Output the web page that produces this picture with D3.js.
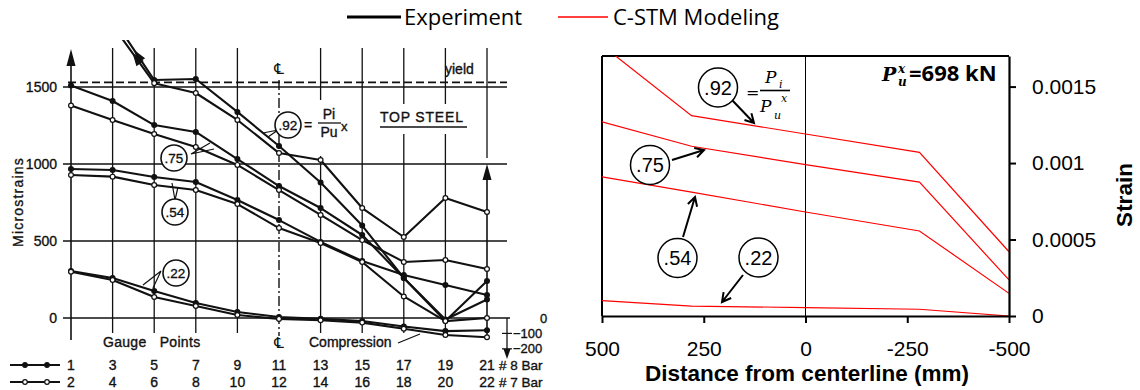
<!DOCTYPE html>
<html><head><meta charset="utf-8">
<script src="https://cdn.jsdelivr.net/npm/d3@7"></script>
<style>
html,body{margin:0;padding:0;background:#fff;}
svg{display:block;}
</style></head>
<body>
<svg id="chart" width="1140" height="390"></svg>
<script>
// ---- Measured top-steel strains (microstrain) at gauge points ----
const gaugesBar8 = [1, 3, 5, 7, 9, 11, 13, 15, 17, 19, 21];
const gaugesBar7 = [2, 4, 6, 8, 10, 12, 14, 16, 18, 20, 22];
const exp92Bar8 = [null, 1950, 1545, 1552, 1338, 1117, 880, 600, 260, -20, 240];
const exp92Bar7 = [null, 1900, 1525, 1461, 1286, 1071, 1026, 714, 526, 779, 688];
const exp75Bar8 = [1510, 1409, 1253, 1208, 1032, 857, 714, 539, 260, -10, 120];
const exp75Bar7 = [1380, 1286, 1195, 1110, 994, 831, 669, 506, 364, 377, 318];
const exp54Bar8 = [968, 961, 916, 883, 766, 636, 494, 370, 279, 214, 149];
const exp54Bar7 = [929, 918, 864, 831, 740, 584, 487, 364, 140, -20, 0];
const exp22Bar8 = [305, 260, 175, 97, 39, 6, -5, -20, -55, -85, -80];
const exp22Bar7 = [300, 247, 136, 78, 19, -6, -15, -30, -70, -110, -125];
const microTicks = [0, 500, 1000, 1500];
const compressionTicks = [-100, -200];
const yieldMicro = 1530;
const loadLabels = ['.92', '.75', '.54', '.22'];

// ---- C-STM model strains along the member ----
const distances = [500, 280, 0, -280, -500];
const model92 = [0.00177, 0.00131, 0.00119, 0.00107, 0.00042];
const model75 = [0.00127, 0.00111, 0.00099, 0.000875, 0.000236];
const model54 = [0.00091, 0.00081, 0.00068, 0.000556, 0.000148];
const model22 = [0.0001, 0.000065, 0.000055, 0.000044, 0];
const strainTicks = [0, 0.0005, 0.001, 0.0015];
const distanceTicks = [500, 250, 0, -250, -500];

const svg = d3.select('#chart');
const ink = '#111';
const scanFont = '"Liberation Sans", "DejaVu Sans", sans-serif';
const uiFont = '"Open Sans", "Noto Sans", sans-serif';
const axisFont = '"Liberation Sans", Arial, sans-serif';

// lettering helper for the hand-lettered record
function letter(sel, size) {
  return sel.attr('font-family', scanFont).attr('font-size', size || 14)
    .attr('fill', ink).attr('stroke', ink).attr('stroke-width', 0.35);
}

// ===================== Left panel: test record =====================
const L = svg.append('g');
const xG = d3.scaleLinear().domain([1, 21]).range([71, 487]);
const yM = d3.scaleLinear().domain([0, 1500]).range([318, 87]);

const defs = svg.append('defs');
defs.append('clipPath').attr('id', 'clipL')
  .append('rect').attr('x', 0).attr('y', 40).attr('width', 520).attr('height', 330);

// horizontal grid
L.selectAll('line.hg').data(microTicks).join('line')
  .attr('x1', 63).attr('x2', d => d === 0 ? 510 : 507)
  .attr('y1', d => yM(d)).attr('y2', d => yM(d))
  .attr('stroke', ink).attr('stroke-width', 1.3);
// yield
L.append('line').attr('x1', 68).attr('x2', 507)
  .attr('y1', yM(yieldMicro)).attr('y2', yM(yieldMicro))
  .attr('stroke', ink).attr('stroke-width', 1.8).attr('stroke-dasharray', '8,4');

// vertical grid at gauge points
const innerGauges = gaugesBar8.filter(g => g !== 1 && g !== 11 && g !== 21);
L.selectAll('line.vg').data(innerGauges).join('line')
  .attr('x1', d => xG(d)).attr('x2', d => xG(d))
  .attr('y1', 48).attr('y2', 333)
  .attr('stroke', ink).attr('stroke-width', 1.3);
// centreline
L.append('line').attr('x1', xG(11)).attr('x2', xG(11)).attr('y1', 80).attr('y2', 336)
  .attr('stroke', ink).attr('stroke-width', 1.4).attr('stroke-dasharray', '10,3,2,3');
// gauge 21 line with upward arrow
L.append('line').attr('x1', xG(21)).attr('x2', xG(21)).attr('y1', 48).attr('y2', 158)
  .attr('stroke', ink).attr('stroke-width', 1.3);
L.append('line').attr('x1', xG(21)).attr('x2', xG(21)).attr('y1', 170).attr('y2', 340)
  .attr('stroke', ink).attr('stroke-width', 1.6);
L.append('path').attr('d', `M${xG(21)},164 l-4.5,16 l9,0 z`).attr('fill', ink);
// y axis with arrow
L.append('line').attr('x1', xG(1)).attr('x2', xG(1)).attr('y1', 56).attr('y2', 340)
  .attr('stroke', ink).attr('stroke-width', 1.6);
L.append('path').attr('d', `M${xG(1)},49 l-4.5,17 l9,0 z`).attr('fill', ink);
// compression scale arrow
L.append('line').attr('x1', 507).attr('x2', 507).attr('y1', yM(0)).attr('y2', 352)
  .attr('stroke', ink).attr('stroke-width', 1.3);
L.append('path').attr('d', 'M507,359 l-3.5,-10 l7,0 z').attr('fill', ink);
L.selectAll('line.ct').data(compressionTicks).join('line')
  .attr('x1', 502).attr('x2', 512).attr('y1', d => yM(d)).attr('y2', d => yM(d))
  .attr('stroke', ink).attr('stroke-width', 1.2);

// label back-outs (gaps in the grid)
L.append('rect').attr('x', 302).attr('y', 100).attr('width', 52).attr('height', 56).attr('fill', '#fff');
L.append('rect').attr('x', 374).attr('y', 104).attr('width', 98).attr('height', 30).attr('fill', '#fff');

// tick labels
letter(L.selectAll('text.yt').data(microTicks).join('text'))
  .attr('x', 57).attr('y', d => yM(d)).attr('dy', '0.36em')
  .attr('text-anchor', 'end').text(d => d);
letter(L.append('text'), 13).attr('x', 540).attr('y', yM(0)).attr('dy', '0.36em').text('0');
letter(L.selectAll('text.ctl').data(compressionTicks).join('text'), 13)
  .attr('x', 513).attr('y', d => yM(d)).attr('dy', '0.36em').text(d => '\u2212' + Math.abs(d));
letter(L.append('text'), 14).attr('transform', 'translate(23,202) rotate(-90)')
  .attr('text-anchor', 'middle').attr('letter-spacing', 1.2).text('Microstrains');

// gauge numbering rows
const rows = [{g: gaugesBar8, y: 365, tag: '# 8 Bar', fill: ink},
              {g: gaugesBar7, y: 382, tag: '# 7 Bar', fill: '#fff'}];
rows.forEach(r => {
  letter(L.selectAll(null).data(r.g).join('text'))
    .attr('x', (d, i) => xG(gaugesBar8[i])).attr('y', r.y).attr('dy', '0.36em')
    .attr('text-anchor', 'middle').text(d => d);
  letter(L.append('text'), 13.5).attr('x', 499).attr('y', r.y).attr('dy', '0.36em').text(r.tag);
  L.append('line').attr('x1', 10).attr('x2', 60).attr('y1', r.y).attr('y2', r.y)
    .attr('stroke', ink).attr('stroke-width', 1.8);
  L.selectAll(null).data([25, 47]).join('circle')
    .attr('cx', d => d).attr('cy', r.y).attr('r', 2.3)
    .attr('fill', r.fill).attr('stroke', ink).attr('stroke-width', 1.2);
});

// measured curves
const measured = [
  {v: exp92Bar8, bar: 8}, {v: exp92Bar7, bar: 7},
  {v: exp75Bar8, bar: 8}, {v: exp75Bar7, bar: 7},
  {v: exp54Bar8, bar: 8}, {v: exp54Bar7, bar: 7},
  {v: exp22Bar8, bar: 8}, {v: exp22Bar7, bar: 7}
];
const lineM = d3.line().defined(d => d.v != null).x(d => xG(d.g)).y(d => yM(d.v));
const curves = L.append('g').attr('clip-path', 'url(#clipL)');
measured.forEach(s => {
  const pts = s.v.map((v, i) => ({g: gaugesBar8[i], v}));
  curves.append('path').datum(pts).attr('d', lineM)
    .attr('fill', 'none').attr('stroke', ink).attr('stroke-width', 2.1)
    .attr('stroke-linejoin', 'round');
  curves.selectAll(null).data(pts.filter(p => p.v != null && yM(p.v) > 44)).join('circle')
    .attr('cx', p => xG(p.g)).attr('cy', p => yM(p.v)).attr('r', 2.4)
    .attr('fill', s.bar === 8 ? ink : '#fff').attr('stroke', ink).attr('stroke-width', 1.2);
});
// arrowheads where the .92 curves leave the chart
[exp92Bar8, exp92Bar7].forEach((v, k) => {
  const x1 = xG(gaugesBar8[1]), y1 = yM(v[1]), x2 = xG(gaugesBar8[2]), y2 = yM(v[2]);
  const yt = 50 + k * 3, t = (yt - y2) / (y1 - y2);
  const xt = x2 + (x1 - x2) * t;
  const ang = Math.atan2(y1 - y2, x1 - x2) * 180 / Math.PI;
  L.append('path').attr('d', 'M0,0 L-13,-4.5 L-13,4.5 Z')
    .attr('transform', `translate(${xt},${yt}) rotate(${ang})`).attr('fill', ink);
});

// load-level tags
function tag(cx, cy, txt) {
  L.append('circle').attr('cx', cx).attr('cy', cy).attr('r', 13)
    .attr('fill', '#fff').attr('stroke', ink).attr('stroke-width', 1.6);
  letter(L.append('text'), 13.5).attr('x', cx).attr('y', cy).attr('dy', '0.36em')
    .attr('text-anchor', 'middle').text(txt);
}
function leader(pts) {
  L.append('path').attr('d', d3.line()(pts)).attr('fill', 'none')
    .attr('stroke', ink).attr('stroke-width', 1.2);
}
leader([[263, 133], [278, 130], [268, 137]]);
leader([[210, 143], [191, 154], [214, 149]]);
leader([[172, 183], [175, 200], [178, 187]]);
leader([[143, 285], [161, 271], [153, 288]]);
tag(288, 125, loadLabels[0]);
tag(174, 158, loadLabels[1]);
tag(175, 212, loadLabels[2]);
tag(176, 273, loadLabels[3]);

// Pi / Pu^x
letter(L.append('text')).attr('x', 304).attr('y', 125).attr('dy', '0.36em').text('=');
letter(L.append('text')).attr('x', 329).attr('y', 119).attr('text-anchor', 'middle').text('Pi');
L.append('line').attr('x1', 318).attr('x2', 341).attr('y1', 123).attr('y2', 123)
  .attr('stroke', ink).attr('stroke-width', 1.3);
letter(L.append('text')).attr('x', 329).attr('y', 137).attr('text-anchor', 'middle').text('Pu');
letter(L.append('text'), 13).attr('x', 341).attr('y', 131).text('x');

// other captions
letter(L.append('text')).attr('x', 380).attr('y', 122).attr('letter-spacing', 0.8).text('TOP  STEEL');
L.append('line').attr('x1', 380).attr('x2', 467).attr('y1', 127).attr('y2', 127)
  .attr('stroke', ink).attr('stroke-width', 1.3);
letter(L.append('text')).attr('x', 445).attr('y', 74).text('yield');
L.append('text').attr('x', xG(11)).attr('y', 74).attr('text-anchor', 'middle')
  .attr('font-family', '"DejaVu Sans", sans-serif').attr('font-size', 15).attr('fill', ink).text('\u2104');
L.append('rect').attr('x', xG(11) - 6).attr('y', 336).attr('width', 12).attr('height', 14).attr('fill', '#fff');
L.append('text').attr('x', xG(11)).attr('y', 348).attr('text-anchor', 'middle')
  .attr('font-family', '"DejaVu Sans", sans-serif').attr('font-size', 15).attr('fill', ink).text('\u2104');
letter(L.append('text')).attr('x', 103).attr('y', 347).attr('word-spacing', 9)
  .attr('letter-spacing', 0.3).text('Gauge Points');
letter(L.append('text')).attr('x', 309).attr('y', 347).text('Compression');
leader([[398, 343], [420, 334]]);

// ===================== Right panel: C-STM model =====================
const R = svg.append('g');
const xD = d3.scaleLinear().domain([500, -500]).range([602, 1009]);
const yS = d3.scaleLinear().domain([0, 0.0017]).range([316, 56]);

defs.append('clipPath').attr('id', 'clipR')
  .append('rect').attr('x', 602).attr('y', 56).attr('width', 407).attr('height', 260);

R.append('line').attr('x1', 602).attr('x2', 1009).attr('y1', 56).attr('y2', 56)
  .attr('stroke', '#000').attr('stroke-width', 2);
R.append('line').attr('x1', 602).attr('x2', 602).attr('y1', 56).attr('y2', 316)
  .attr('stroke', '#000').attr('stroke-width', 2);
R.append('line').attr('x1', xD(0)).attr('x2', xD(0)).attr('y1', 56).attr('y2', 316)
  .attr('stroke', '#000').attr('stroke-width', 1);

const lineS = d3.line().x((d, i) => xD(distances[i])).y(d => yS(d));
const modelG = R.append('g').attr('clip-path', 'url(#clipR)');
[model92, model75, model54, model22].forEach(m => {
  modelG.append('path').datum(m).attr('d', lineS)
    .attr('fill', 'none').attr('stroke', '#ff0000').attr('stroke-width', 1.2);
});

const axB = R.append('g').attr('transform', 'translate(0,316)')
  .call(d3.axisBottom(xD).tickValues(distanceTicks).tickSize(7).tickSizeOuter(0)
    .tickPadding(18).tickFormat(d => String(d)));
const axR = R.append('g').attr('transform', 'translate(1009,0)')
  .call(d3.axisRight(yS).tickValues(strainTicks).tickSize(7).tickSizeOuter(0)
    .tickPadding(16).tickFormat(d => String(d)));
[axB, axR].forEach(a => {
  a.select('.domain').attr('stroke', '#000').attr('stroke-width', 2.2);
  a.selectAll('.tick line').attr('stroke', '#000').attr('stroke-width', 2);
  a.selectAll('.tick text').attr('font-family', axisFont).attr('font-size', 21).attr('fill', '#000');
});

R.append('text').attr('x', 807).attr('y', 381).attr('text-anchor', 'middle')
  .attr('font-family', axisFont).attr('font-weight', 'bold').attr('font-size', 22.5)
  .attr('fill', '#000').text('Distance from centerline (mm)');
R.append('text').attr('transform', 'translate(1132,195) rotate(-90)').attr('text-anchor', 'middle')
  .attr('font-family', axisFont).attr('font-weight', 'bold').attr('font-size', 22.5)
  .attr('fill', '#000').text('Strain');

// ultimate load note
const serif = '"DejaVu Serif", "Liberation Serif", serif';
R.append('text').attr('x', 882).attr('y', 81).attr('font-family', serif)
  .attr('font-style', 'italic').attr('font-weight', 'bold').attr('font-size', 19).attr('fill', '#000').text('P');
R.append('text').attr('x', 898).attr('y', 73).attr('font-family', serif)
  .attr('font-style', 'italic').attr('font-weight', 'bold').attr('font-size', 12).attr('fill', '#000').text('x');
R.append('text').attr('x', 898).attr('y', 86).attr('font-family', serif)
  .attr('font-style', 'italic').attr('font-weight', 'bold').attr('font-size', 12).attr('fill', '#000').text('u');
R.append('text').attr('x', 909).attr('y', 81).attr('font-family', uiFont)
  .attr('font-weight', 'bold').attr('font-size', 22).attr('fill', '#000').text('=698 kN');

// load tags with arrows
function arrow(x1, y1, x2, y2) {
  const a = Math.atan2(y2 - y1, x2 - x1), h = 10, w = 0.5;
  const p1 = [x2 - h * Math.cos(a - w), y2 - h * Math.sin(a - w)];
  const p2 = [x2 - h * Math.cos(a + w), y2 - h * Math.sin(a + w)];
  R.append('path').attr('d', `M${x1},${y1}L${x2},${y2}M${p1}L${x2},${y2}L${p2}`)
    .attr('fill', 'none').attr('stroke', '#000').attr('stroke-width', 2);
}
function rtag(cx, cy, txt) {
  R.append('circle').attr('cx', cx).attr('cy', cy).attr('r', 19.5)
    .attr('fill', '#fff').attr('stroke', '#000').attr('stroke-width', 1.5);
  R.append('text').attr('x', cx).attr('y', cy).attr('dy', '0.36em').attr('text-anchor', 'middle')
    .attr('font-family', scanFont).attr('font-size', 20).attr('fill', '#000').text(txt);
}
arrow(732, 100, 754, 123);
arrow(672, 160, 704, 150);
arrow(683, 237, 695, 197);
arrow(743, 275, 722, 302);
rtag(718, 87.5, loadLabels[0]);
rtag(650, 165, loadLabels[1]);
rtag(677.5, 258, loadLabels[2]);
rtag(758.5, 257.5, loadLabels[3]);

// Pi / Pu^x
R.append('text').attr('x', 746).attr('y', 98).attr('font-family', serif)
  .attr('font-size', 16).attr('fill', '#000').text('=');
R.append('text').attr('x', 765).attr('y', 83).attr('font-family', serif).attr('font-style', 'italic')
  .attr('font-size', 17).attr('fill', '#000').text('P');
R.append('text').attr('x', 779).attr('y', 88).attr('font-family', serif).attr('font-style', 'italic')
  .attr('font-size', 11).attr('fill', '#000').text('i');
R.append('line').attr('x1', 760).attr('x2', 790).attr('y1', 90.5).attr('y2', 90.5)
  .attr('stroke', '#000').attr('stroke-width', 1.6);
R.append('text').attr('x', 760).attr('y', 112).attr('font-family', serif).attr('font-style', 'italic')
  .attr('font-size', 17).attr('fill', '#000').text('P');
R.append('text').attr('x', 774).attr('y', 119).attr('font-family', serif).attr('font-style', 'italic')
  .attr('font-size', 11).attr('fill', '#000').text('u');
R.append('text').attr('x', 781).attr('y', 102).attr('font-family', serif).attr('font-style', 'italic')
  .attr('font-size', 11).attr('fill', '#000').text('x');

// ===================== Legend =====================
const Lg = svg.append('g');
Lg.append('line').attr('x1', 347).attr('x2', 401).attr('y1', 17).attr('y2', 17)
  .attr('stroke', '#000').attr('stroke-width', 3);
Lg.append('text').attr('x', 404).attr('y', 25).attr('font-family', uiFont).attr('font-size', 22)
  .attr('fill', '#000').text('Experiment');
Lg.append('line').attr('x1', 558).attr('x2', 608).attr('y1', 17).attr('y2', 17)
  .attr('stroke', '#ff0000').attr('stroke-width', 1.3);
Lg.append('text').attr('x', 613).attr('y', 25).attr('font-family', uiFont).attr('font-size', 22)
  .attr('fill', '#000').text('C-STM Modeling');
</script>
</body></html>
